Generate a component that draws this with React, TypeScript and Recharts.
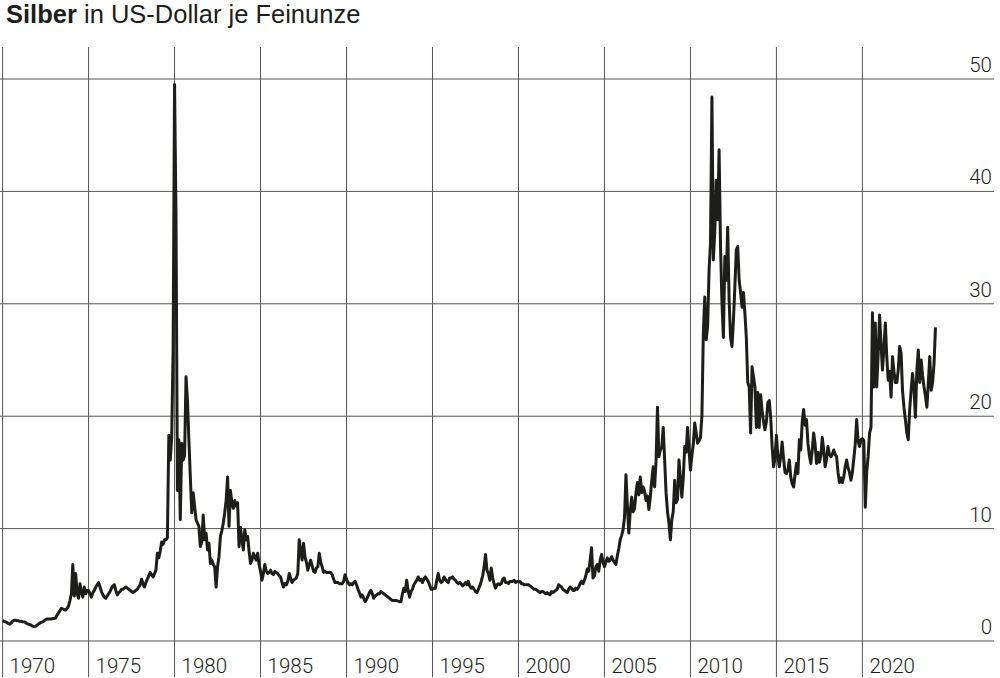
import React from 'react';
import { LineChart, Line, XAxis, YAxis, CartesianGrid } from 'recharts';

// monthly silver price (USD per troy ounce)
const prices1970s = [
  1.8, 1.75, 1.7, 1.65, 1.55, 1.5, 1.6, 1.75, 1.85, 1.85, 1.8, 1.8,
  1.75, 1.75, 1.72, 1.7, 1.65, 1.55, 1.5, 1.45, 1.4, 1.32, 1.28, 1.3,
  1.4, 1.5, 1.6, 1.65, 1.7, 1.8, 1.9, 1.95, 1.95, 1.95, 1.95, 2.0,
  2.0, 2.05, 2.3, 2.5, 2.7, 2.9, 2.85, 2.8, 2.75, 2.9, 3.1, 3.6,
  4.2, 6.8, 4.0, 6.0, 4.2, 3.8, 5.1, 4.3, 3.9, 4.8, 4.2, 4.5,
  4.5, 4.2, 3.9, 4.3, 4.5, 4.8, 5.0, 5.2, 4.8, 4.4, 4.1, 3.9,
  3.8, 4.0, 4.2, 4.4, 4.7, 4.9, 5.0, 4.5, 4.1, 4.3, 4.4, 4.6,
  4.6, 4.7, 4.8, 4.7, 4.6, 4.5, 4.4, 4.3, 4.4, 4.5, 4.6, 4.8,
  5.0, 5.5, 5.1, 4.8, 5.2, 5.5, 5.8, 6.1, 5.9, 5.7, 6.0, 6.3,
  7.8, 7.4, 8.0, 8.8, 8.6, 9.0, 9.0, 9.2, 18.3, 16.1, 18.1, 26.0,
];

const prices1980s = [
  49.5, 38.0, 13.4, 17.9, 10.8, 17.6, 16.1, 16.5, 23.5, 21.4, 17.9, 14.6,
  11.4, 13.2, 12.0, 10.8, 10.5, 10.2, 8.4, 8.8, 11.2, 9.0, 9.6, 8.1,
  8.7, 6.9, 7.2, 6.8, 6.6, 4.8, 6.6, 7.5, 9.3, 9.8, 10.5, 11.4,
  12.5, 14.6, 10.2, 13.4, 12.3, 11.8, 12.5, 12.0, 12.3, 8.4, 10.1, 9.0,
  8.1, 9.9, 9.0, 9.3, 8.0, 6.9, 7.2, 7.8, 7.5, 7.2, 7.8, 6.8,
  6.2, 5.4, 6.0, 6.8, 6.2, 6.0, 6.1, 6.3, 6.0, 5.9, 6.2, 6.1,
  6.0, 5.8, 5.7, 5.2, 4.8, 5.1, 5.0, 5.3, 6.0, 5.6, 5.2, 5.4,
  5.5, 5.6, 6.0, 9.0, 8.0, 7.2, 8.7, 7.5, 7.0, 6.3, 6.8, 7.2,
  6.7, 6.2, 6.1, 6.5, 6.6, 7.8, 7.0, 6.6, 6.1, 6.2, 6.1, 6.1,
  6.1, 6.1, 5.9, 5.5, 5.2, 5.2, 5.2, 5.1, 5.1, 5.1, 5.3, 5.9,
];

const prices1990s = [
  5.5, 5.2, 5.0, 5.1, 5.0, 5.2, 5.3, 5.0, 4.6, 4.3, 3.9, 4.1,
  3.8, 3.5, 3.7, 4.0, 4.3, 4.5, 4.2, 3.8, 4.0, 4.1, 4.2, 4.2,
  4.4, 4.3, 4.2, 4.1, 4.0, 3.9, 3.8, 3.7, 3.6, 3.6, 3.6, 3.6,
  3.55, 3.5, 3.5, 4.2, 4.7, 4.4, 5.4, 4.5, 3.9, 4.4, 4.6, 5.0,
  5.2, 5.4, 5.7, 5.4, 5.5, 5.2, 5.5, 5.7, 5.5, 5.3, 5.0, 4.6,
  4.6, 4.7, 4.7, 5.4, 6.0, 5.4, 5.2, 5.3, 5.7, 5.5, 5.3, 5.2,
  5.6, 5.6, 5.7, 5.5, 5.4, 5.2, 5.1, 5.2, 5.1, 4.9, 5.0, 5.2,
  5.0, 5.3, 4.9, 4.7, 4.8, 4.6, 4.4, 4.3, 4.6, 4.9, 5.3, 5.8,
  6.6, 7.7, 6.3, 6.0, 5.4, 6.5, 5.6, 5.1, 4.7, 5.0, 5.1, 5.0,
  5.1, 5.5, 5.6, 5.2, 5.2, 5.1, 5.3, 5.3, 5.3, 5.4, 5.2, 5.3,
];

const prices2000s = [
  5.3, 5.3, 5.1, 5.1, 5.0, 5.0, 5.0, 5.0, 4.9, 4.8, 4.7, 4.6,
  4.6, 4.5, 4.4, 4.3, 4.4, 4.4, 4.3, 4.2, 4.3, 4.2, 4.1, 4.4,
  4.3, 4.4, 4.5, 4.6, 5.0, 4.9, 4.8, 4.6, 4.5, 4.4, 4.3, 4.6,
  4.8, 4.7, 4.5, 4.5, 4.7, 4.6, 4.8, 5.1, 5.3, 5.1, 5.4, 5.8,
  6.4, 6.2, 7.2, 8.3, 5.6, 5.8, 6.6, 6.8, 6.2, 7.2, 7.7, 7.0,
  6.6, 7.0, 7.4, 7.1, 7.2, 7.5, 7.2, 7.0, 6.8, 7.6, 8.2, 9.0,
  9.4, 9.9, 11.0, 14.8, 12.0, 9.6, 11.5, 12.8, 11.5, 11.8, 13.2, 14.1,
  13.0, 14.6, 13.2, 13.7, 13.3, 12.5, 12.9, 11.7, 12.8, 14.3, 15.5, 13.7,
  16.0, 20.8, 16.4, 17.0, 17.2, 19.0, 16.1, 13.2, 11.5, 10.5, 9.0, 10.8,
  11.5, 14.3, 12.3, 12.6, 16.1, 14.5, 12.8, 14.5, 17.3, 16.8, 19.0, 17.0,
];

const prices2010s = [
  15.2, 16.5, 17.5, 19.4, 18.5, 17.6, 17.8, 18.1, 20.0, 27.4, 30.6, 26.8,
  28.0, 33.0, 35.4, 48.4, 33.9, 36.5, 41.0, 37.5, 43.7, 35.1, 30.1, 27.0,
  34.2, 32.1, 36.8, 30.3, 27.0, 26.2, 28.5, 31.5, 34.8, 35.1, 32.1, 31.0,
  29.7, 31.0, 29.2, 27.0, 23.0, 22.6, 18.5, 24.4, 23.5, 22.6, 19.0, 22.1,
  19.0, 21.9, 20.5, 19.5, 18.8, 19.5, 21.2, 21.4, 19.9, 17.3, 15.5, 16.2,
  18.3, 16.5, 15.5, 16.4, 17.7, 16.2, 15.0, 14.9, 15.2, 16.1, 14.6, 14.0,
  13.7, 14.8, 15.8, 14.9, 17.9, 17.0, 19.5, 20.6, 19.2, 19.7, 17.6, 16.5,
  15.8, 17.0, 18.5, 17.5, 15.8, 16.8, 15.9, 16.5, 18.1, 17.0, 15.5, 16.2,
  17.3, 16.6, 16.4, 16.6, 17.0, 16.6, 16.4, 15.0, 14.1, 14.5, 14.1, 14.6,
  15.5, 16.1, 15.4, 15.0, 14.3, 15.0, 16.2, 17.5, 19.7, 17.8, 17.3, 17.9,
];

const prices2020s = [
  18.0, 17.8, 11.9, 15.0, 16.4, 18.5, 19.0, 29.2, 22.6, 28.3, 22.6, 25.5,
  29.0, 26.5, 24.1, 26.0, 28.3, 25.3, 23.2, 24.0, 21.7, 25.3, 24.0, 23.0,
  23.0, 24.1, 26.2, 25.6, 22.3, 20.8, 19.7, 18.5, 17.9, 20.6, 22.3, 23.8,
  22.5, 19.9, 24.1, 25.9, 23.0, 25.0, 23.6, 22.6, 21.8, 20.8, 23.0, 25.3,
  22.3, 23.0, 24.7, 27.9,
];

const yearTicks = [1970, 1975, 1980, 1985, 1990, 1995, 2000, 2005, 2010, 2015, 2020];
const priceTicks = [0, 10, 20, 30, 40, 50];

const decades = [
  { start: 1970, values: prices1970s },
  { start: 1980, values: prices1980s },
  { start: 1990, values: prices1990s },
  { start: 2000, values: prices2000s },
  { start: 2010, values: prices2010s },
  { start: 2020, values: prices2020s },
];

const data = decades.flatMap(({ start, values }) =>
  values.map((price, i) => ({ t: start + i / 12, price }))
);

const TICK_FONT = 'Roboto, "Liberation Sans", Arial, sans-serif';
const TITLE_FONT = '"Liberation Sans", Arial, sans-serif';
const INK = '#1d1d1b';

const YearTick = (props: any) => {
  const { x, payload } = props;
  return (
    <text x={x + 7} y={673} fontSize={20.5} fontFamily={TICK_FONT} fontWeight={300} fill={INK}>
      {payload.value}
    </text>
  );
};

const PriceTick = (props: any) => {
  const { y, payload } = props;
  return (
    <text x={992} y={y - 7} textAnchor="end" fontSize={20.5} fontFamily={TICK_FONT} fontWeight={300} fill={INK}>
      {payload.value}
    </text>
  );
};

export default function App() {
  return (
    <div style={{ position: 'absolute', left: 0, top: 0, width: 1000, height: 678, background: '#fff' }}>
      <div
        style={{
          position: 'absolute',
          left: 6,
          top: 1,
          fontFamily: TITLE_FONT,
          fontSize: 25.5,
          lineHeight: '26px',
          color: INK,
          whiteSpace: 'nowrap',
          fontWeight: 400,
        }}
      >
        <span style={{ fontWeight: 700 }}>Silber</span> in US-Dollar je Feinunze
      </div>
      <LineChart width={1000} height={678} data={data} margin={{ top: 47, right: 0, bottom: 0, left: 0 }}>
        <CartesianGrid stroke="#555" strokeWidth={1} horizontalValues={priceTicks} verticalValues={yearTicks} />
        <XAxis
          dataKey="t"
          type="number"
          domain={[1969.849, 2027.653]}
          ticks={yearTicks}
          interval={0}
          allowDataOverflow
          height={1}
          axisLine={false}
          tickLine={false}
          tick={<YearTick />}
        />
        <YAxis
          type="number"
          orientation="right"
          domain={[-3.203, 52.847]}
          ticks={priceTicks}
          interval={0}
          allowDataOverflow
          width={6}
          axisLine={false}
          tickLine={false}
          tick={<PriceTick />}
        />
        <Line
          type="linear"
          dataKey="price"
          stroke={INK}
          strokeWidth={3}
          strokeLinejoin="round"
          dot={false}
          isAnimationActive={false}
        />
      </LineChart>
    </div>
  );
}
